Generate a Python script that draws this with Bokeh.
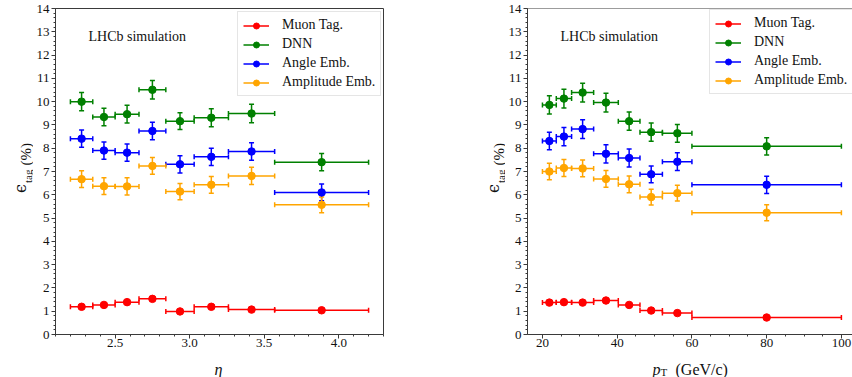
import math
from bokeh.plotting import figure
from bokeh.models import (ColumnDataSource, Whisker, TeeHead, Label, Legend, LegendItem,
                          SingleIntervalTicker, Range1d, Span, PrintfTickFormatter)
from bokeh.layouts import row, column
from bokeh.core.properties import value
from bokeh.embed import file_html
from bokeh.resources import INLINE

series_names = ["Muon Tag.", "DNN", "Angle Emb.", "Amplitude Emb."]
series_colors = ["red", "green", "blue", "orange"]

# ---- eta panel ----
eta_centers = [2.275, 2.425, 2.58, 2.75, 2.935, 3.145, 3.415, 3.885]
eta_lo = [2.2, 2.35, 2.5, 2.66, 2.84, 3.03, 3.26, 3.57]
eta_hi = [2.35, 2.5, 2.66, 2.84, 3.03, 3.26, 3.57, 4.2]

eta_muon = [1.19, 1.27, 1.39, 1.53, 0.99, 1.19, 1.07, 1.04]
eta_muon_err = [0.08, 0.08, 0.08, 0.09, 0.07, 0.08, 0.07, 0.07]
eta_dnn = [10.0, 9.34, 9.46, 10.51, 9.16, 9.31, 9.49, 7.40]
eta_dnn_err = [0.39, 0.38, 0.38, 0.40, 0.36, 0.39, 0.40, 0.37]
eta_angle = [8.41, 7.90, 7.81, 8.74, 7.31, 7.63, 7.86, 6.10]
eta_angle_err = [0.37, 0.37, 0.37, 0.38, 0.37, 0.37, 0.38, 0.36]
eta_ampl = [6.67, 6.37, 6.36, 7.24, 6.14, 6.43, 6.81, 5.57]
eta_ampl_err = [0.36, 0.36, 0.37, 0.36, 0.35, 0.36, 0.37, 0.34]

# ---- pT panel ----
pt_centers = [21.85, 25.75, 30.75, 37.0, 43.2, 49.1, 56.1, 80.0]
pt_lo = [20.0, 23.7, 27.8, 33.7, 40.3, 46.1, 52.1, 60.0]
pt_hi = [23.7, 27.8, 33.7, 40.3, 46.1, 52.1, 60.0, 100.0]

pt_muon = [1.37, 1.39, 1.37, 1.46, 1.27, 1.03, 0.92, 0.73]
pt_muon_err = [0.08, 0.08, 0.08, 0.09, 0.08, 0.07, 0.07, 0.06]
pt_dnn = [9.86, 10.13, 10.39, 9.96, 9.16, 8.69, 8.64, 8.08]
pt_dnn_err = [0.39, 0.40, 0.40, 0.40, 0.39, 0.39, 0.38, 0.37]
pt_angle = [8.31, 8.50, 8.82, 7.76, 7.58, 6.88, 7.42, 6.43]
pt_angle_err = [0.38, 0.39, 0.40, 0.39, 0.39, 0.36, 0.38, 0.37]
pt_ampl = [7.00, 7.15, 7.13, 6.68, 6.45, 5.90, 6.07, 5.23]
pt_ampl_err = [0.35, 0.36, 0.36, 0.36, 0.36, 0.34, 0.34, 0.34]

y_min, y_max = 0, 14
eta_xlim = (2.1, 4.3)
pt_xlim = (16, 102.97)

SERIF = "Liberation Serif"
GREEK = "DejaVu Serif"
AX_COL = "#3a3a3a"
TXT_COL = "#111111"
TOP_H = 353
BOT_H = 24
FRAME_BOTTOM = 334


def make_panel(width, bl, br, xr, x_interval, x_minor, x_fmt, centers, lo, hi,
               values, errors, legend_loc, outline):
    p = figure(width=width, height=TOP_H, output_backend="svg", toolbar_location=None,
               x_range=Range1d(*xr), y_range=Range1d(y_min, y_max),
               min_border_left=bl, min_border_right=br, min_border_top=8,
               min_border_bottom=TOP_H - FRAME_BOTTOM)
    p.xgrid.visible = False
    p.ygrid.visible = False
    p.background_fill_color = "white"
    p.border_fill_color = "white"
    if outline:
        p.outline_line_color = AX_COL
        p.outline_line_width = 1
    else:
        p.outline_line_color = None
        p.add_layout(Span(location=y_max, dimension="width", line_color=AX_COL, line_width=1))

    p.xaxis.ticker = SingleIntervalTicker(interval=x_interval, num_minor_ticks=x_minor)
    p.yaxis.ticker = SingleIntervalTicker(interval=1, num_minor_ticks=5)
    if x_fmt is not None:
        p.xaxis.formatter = x_fmt
    for ax in (p.xaxis, p.yaxis):
        ax.axis_line_color = AX_COL
        ax.major_tick_line_color = AX_COL
        ax.minor_tick_line_color = AX_COL
        ax.major_tick_out = 4
        ax.major_tick_in = 0
        ax.minor_tick_out = 2
        ax.minor_tick_in = 0
        ax.major_label_text_font = SERIF
        ax.major_label_text_font_size = "13px"
        ax.major_label_text_color = TXT_COL
    p.xaxis.major_label_standoff = 0
    p.yaxis.major_label_standoff = 2

    items = []
    for name, col, ys, es in zip(series_names, series_colors, values, errors):
        src = ColumnDataSource(dict(
            x=centers, y=ys, xlo=lo, xhi=hi,
            ylo=[v - e for v, e in zip(ys, es)],
            yhi=[v + e for v, e in zip(ys, es)],
        ))
        for dim, base, lower, upper in (("width", "y", "xlo", "xhi"),
                                        ("height", "x", "ylo", "yhi")):
            w = Whisker(source=src, base=base, lower=lower, upper=upper, dimension=dim,
                        line_color=col, line_width=1.5,
                        upper_head=TeeHead(size=5, line_color=col, line_width=1.5),
                        lower_head=TeeHead(size=5, line_color=col, line_width=1.5))
            p.add_layout(w)
        dots = p.scatter("x", "y", source=src, marker="circle", size=7.5,
                         fill_color=col, line_color=col)
        bar = p.line(x=[float("nan")], y=[float("nan")], line_color=col, line_width=1.5)
        items.append(LegendItem(label=name, renderers=[bar, dots]))

    leg = Legend(items=items, location=legend_loc, label_text_font=SERIF,
                 label_text_font_size="14px", label_text_color=TXT_COL,
                 glyph_width=26, glyph_height=15, label_height=15, spacing=3,
                 padding=5, label_standoff=13, margin=0,
                 border_line_color="#cccccc", border_line_width=1,
                 background_fill_color="white", background_fill_alpha=0.8)
    p.add_layout(leg)

    p.add_layout(Label(x=33, y=298, x_units="screen", y_units="screen",
                       text="LHCb simulation", text_font=SERIF, text_font_size="14px",
                       text_color=TXT_COL, text_baseline="middle"))
    return p


def strip(width, height):
    f = figure(width=width, height=height, output_backend="svg", toolbar_location=None,
               x_range=Range1d(0, width), y_range=Range1d(0, height),
               min_border=0, x_axis_location=None, y_axis_location=None)
    f.outline_line_color = None
    f.xgrid.visible = False
    f.ygrid.visible = False
    f.background_fill_color = "white"
    f.border_fill_color = "white"
    return f


def ylabel_strip(width, x0):
    f = strip(width, TOP_H)
    f.text(x=[x0 + 19.5], y=[TOP_H - 195], text=["ϵ"], angle=math.pi / 2,
           text_font=value(GREEK), text_font_size="16px",
           text_align="center", text_baseline="middle", text_color=TXT_COL)
    f.text(x=[x0 + 27], y=[TOP_H - 189], text=["tag"], angle=math.pi / 2,
           text_font=value(SERIF), text_font_size="11px",
           text_align="left", text_baseline="alphabetic", text_color=TXT_COL)
    f.text(x=[x0 + 25], y=[TOP_H - 170], text=["(%)"], angle=math.pi / 2,
           text_font=value(SERIF), text_font_size="15px",
           text_align="left", text_baseline="alphabetic", text_color=TXT_COL)
    return f


yl1 = ylabel_strip(33, 0)
p1 = make_panel(393, 20, 43, eta_xlim, 0.5, 5, PrintfTickFormatter(format="%.1f"),
                eta_centers, eta_lo, eta_hi,
                [eta_muon, eta_dnn, eta_angle, eta_ampl],
                [eta_muon_err, eta_dnn_err, eta_angle_err, eta_ampl_err],
                (182, 238), True)
yl2 = ylabel_strip(79, 47)
p2 = make_panel(347, 20, 0, pt_xlim, 20, 4, None,
                pt_centers, pt_lo, pt_hi,
                [pt_muon, pt_dnn, pt_angle, pt_ampl],
                [pt_muon_err, pt_dnn_err, pt_angle_err, pt_ampl_err],
                (182, 240), False)

xl1 = strip(426, BOT_H)
xl1.text(x=[218], y=[8], text=["η"], text_font=value(SERIF), text_font_style="italic",
         text_font_size="16px", text_align="center", text_baseline="alphabetic",
         text_color=TXT_COL)
xl2 = strip(426, BOT_H)
xl2.text(x=[226], y=[8], text=["p"], text_font=value(SERIF), text_font_style="italic",
         text_font_size="16px", text_align="left", text_baseline="alphabetic",
         text_color=TXT_COL)
xl2.text(x=[234], y=[6], text=["T"], text_font=value(SERIF), text_font_size="11px",
         text_align="left", text_baseline="alphabetic", text_color=TXT_COL)
xl2.text(x=[249], y=[8], text=["(GeV/c)"], text_font=value(SERIF), text_font_size="16px",
         text_align="left", text_baseline="alphabetic", text_color=TXT_COL)

layout = column(row(yl1, p1, yl2, p2), row(xl1, xl2))
open("out.html", "w").write(file_html(layout, INLINE))
